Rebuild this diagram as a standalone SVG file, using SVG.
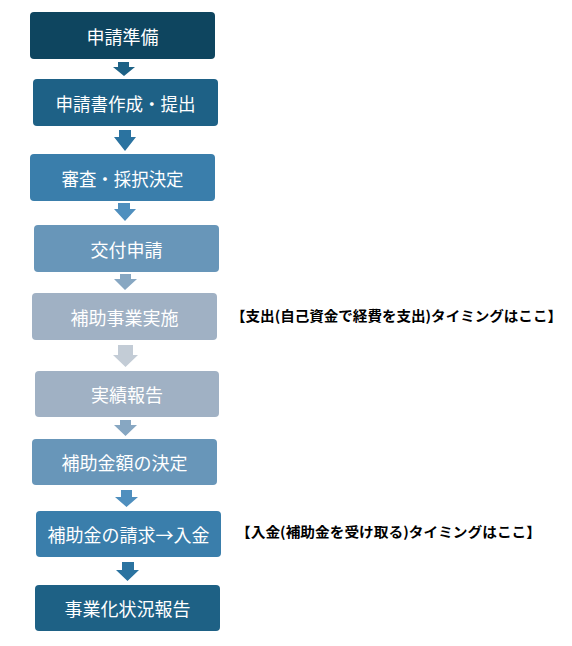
<svg xmlns="http://www.w3.org/2000/svg" width="572" height="646" viewBox="0 0 572 646">
<style>
.box text{font-family:"Noto Sans CJK JP","Noto Sans",sans-serif;font-size:18px;fill:#ffffff;text-anchor:middle;dominant-baseline:central}
.lbl{font-family:"Noto Sans CJK JP","Noto Sans",sans-serif;font-size:14px;font-weight:bold;fill:#000000}
</style>
<rect width="572" height="646" fill="#ffffff"/>
<g id="connectors">
<path d="M118,62 H129 V67 H135 L124,76 L113,67 H118 Z" fill="#1e6286"/>
<path d="M119,130 H131 V137 H136 L125,151 L114,137 H119 Z" fill="#2b73a0"/>
<path d="M118,203 H130 V209 H136 L125,221 L114,209 H118 Z" fill="#4f8fbe"/>
<path d="M120,274 H131 V279 H137 L125,290 L114,279 H120 Z" fill="#87a7c2"/>
<path d="M118,345 H133 V355 H138 L125.5,367 L113,355 H118 Z" fill="#c3ccd6"/>
<path d="M120,420 H131 V425 H137 L125.5,436 L114,425 H120 Z" fill="#87a7c2"/>
<path d="M121,490 H132 V497 H138 L126.5,507 L115,497 H121 Z" fill="#4f8fbe"/>
<path d="M122,562 H134 V570 H139 L127.5,581 L116,570 H122 Z" fill="#2b73a0"/>
</g>
<g id="n1" class="box"><rect x="30" y="12" width="185" height="47" rx="4" fill="#0e455f"/><text x="122.5" y="35.5">申請準備</text></g>
<g id="n2" class="box"><rect x="33" y="79" width="185" height="47" rx="4" fill="#1e6186"/><text x="125.5" y="102.5" textLength="140" lengthAdjust="spacingAndGlyphs">申請書作成・提出</text></g>
<g id="n3" class="box"><rect x="30" y="154" width="185" height="47" rx="4" fill="#3a7eab"/><text x="122.5" y="177.5" textLength="122" lengthAdjust="spacingAndGlyphs">審査・採択決定</text></g>
<g id="n4" class="box"><rect x="34" y="225" width="185" height="47" rx="4" fill="#6896b9"/><text x="126.5" y="248.5">交付申請</text></g>
<g id="n5" class="box"><rect x="32" y="293" width="185" height="47" rx="4" fill="#a0b1c4"/><text x="124.5" y="316.5">補助事業実施</text></g>
<g id="n6" class="box"><rect x="35" y="371" width="184" height="46" rx="4" fill="#a0b1c4"/><text x="127" y="394">実績報告</text></g>
<g id="n7" class="box"><rect x="32" y="439" width="185" height="46" rx="4" fill="#6896b9"/><text x="124.5" y="462">補助金額の決定</text></g>
<g id="n8" class="box"><rect x="36" y="511" width="185" height="46" rx="4" fill="#3a7eab"/><text x="128.5" y="534">補助金の請求→入金</text></g>
<g id="n9" class="box"><rect x="35" y="585" width="185" height="46" rx="4" fill="#1e6185"/><text x="127.5" y="608">事業化状況報告</text></g>
<g id="labels">
<text class="lbl" x="231" y="321" textLength="331" lengthAdjust="spacingAndGlyphs">【支出(自己資金で経費を支出)タイミングはここ】</text>
<text class="lbl" x="236" y="537" textLength="305" lengthAdjust="spacingAndGlyphs">【入金(補助金を受け取る)タイミングはここ】</text>
</g>
</svg>
